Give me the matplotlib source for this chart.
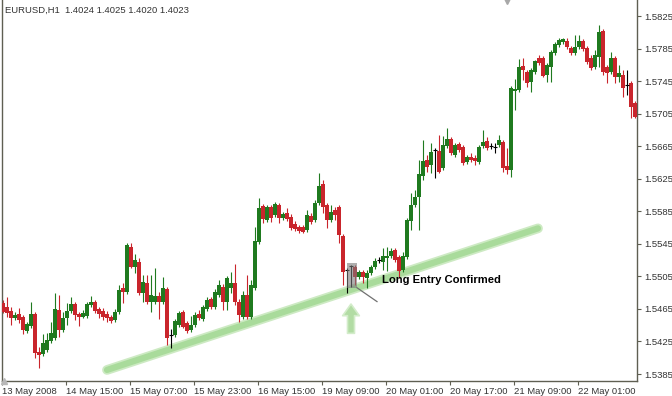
import numpy as np
import matplotlib.pyplot as plt

# EURUSD H1 candles, first bar = 13 May 2008 23:00
opens = [1.5472, 1.5467, 1.5462, 1.5454, 1.5459, 1.5455, 1.5438, 1.5444, 1.5459, 1.5412,
         1.5410, 1.5415, 1.5426, 1.5429, 1.5464, 1.5439, 1.5454, 1.5462, 1.5471, 1.5459,
         1.5455, 1.5456, 1.5470, 1.5474, 1.5465, 1.5462, 1.5459, 1.5455, 1.5451, 1.5461,
         1.5491, 1.5486, 1.5541, 1.5516, 1.5523, 1.5485, 1.5497, 1.5474, 1.5474, 1.5481,
         1.5474, 1.5489, 1.5433, 1.5433, 1.5445, 1.5461, 1.5448, 1.5439, 1.5445, 1.5459,
         1.5453, 1.5465, 1.5477, 1.5467, 1.5482, 1.5492, 1.5474, 1.5491, 1.5497, 1.5474,
         1.5455, 1.5482, 1.5455, 1.5491, 1.5547, 1.5592, 1.5574, 1.5590, 1.5580, 1.5593,
         1.5577, 1.5583, 1.5578, 1.5569, 1.5566, 1.5566, 1.5562, 1.5579, 1.5574, 1.5595,
         1.5619, 1.5593, 1.5574, 1.5587, 1.5590, 1.5555, 1.5513, 1.5518, 1.5516, 1.5504,
         1.5510, 1.5503, 1.5509, 1.5516, 1.5525, 1.5523, 1.5528, 1.5530, 1.5537, 1.5529,
         1.5513, 1.5529, 1.5573, 1.5593, 1.5603, 1.5628, 1.5648, 1.5642, 1.5660, 1.5659,
         1.5638, 1.5665, 1.5674, 1.5654, 1.5668, 1.5664, 1.5646, 1.5652, 1.5650, 1.5646,
         1.5665, 1.5671, 1.5665, 1.5664, 1.5666, 1.5670, 1.5641, 1.5636, 1.5733, 1.5734,
         1.5764, 1.5756, 1.5744, 1.5756, 1.5773, 1.5773, 1.5753, 1.5762, 1.5780, 1.5789,
         1.5793, 1.5794, 1.5786, 1.5780, 1.5787, 1.5794, 1.5786, 1.5773, 1.5762, 1.5775,
         1.5807, 1.5762, 1.5756, 1.5773, 1.5750, 1.5753, 1.5740, 1.5743, 1.5718]
highs = [1.5476, 1.5480, 1.5467, 1.5461, 1.5466, 1.5458, 1.5449, 1.5474, 1.5461, 1.5418,
         1.5434, 1.5435, 1.5449, 1.5485, 1.5482, 1.5461, 1.5472, 1.5480, 1.5474, 1.5461,
         1.5464, 1.5474, 1.5481, 1.5476, 1.5467, 1.5466, 1.5462, 1.5458, 1.5465, 1.5494,
         1.5497, 1.5546, 1.5546, 1.5532, 1.5528, 1.5507, 1.5507, 1.5507, 1.5515, 1.5486,
         1.5504, 1.5492, 1.5440, 1.5453, 1.5462, 1.5464, 1.5450, 1.5456, 1.5461, 1.5464,
         1.5470, 1.5480, 1.5480, 1.5489, 1.5501, 1.5496, 1.5505, 1.5510, 1.5520, 1.5477,
         1.5487, 1.5507, 1.5501, 1.5566, 1.5601, 1.5594, 1.5593, 1.5593, 1.5596, 1.5595,
         1.5584, 1.5589, 1.5582, 1.5573, 1.5568, 1.5568, 1.5587, 1.5583, 1.5599, 1.5632,
         1.5623, 1.5595, 1.5593, 1.5590, 1.5593, 1.5557, 1.5515, 1.5519, 1.5519, 1.5513,
         1.5513, 1.5513, 1.5519, 1.5528, 1.5529, 1.5540, 1.5541, 1.5540, 1.5540, 1.5531,
         1.5535, 1.5577, 1.5608, 1.5611, 1.5648, 1.5673, 1.5654, 1.5669, 1.5663, 1.5679,
         1.5678, 1.5687, 1.5676, 1.5669, 1.5670, 1.5666, 1.5654, 1.5657, 1.5654, 1.5666,
         1.5685, 1.5676, 1.5669, 1.5669, 1.5679, 1.5673, 1.5663, 1.5739, 1.5748, 1.5772,
         1.5773, 1.5759, 1.5761, 1.5771, 1.5777, 1.5776, 1.5767, 1.5783, 1.5793, 1.5798,
         1.5798, 1.5798, 1.5788, 1.5802, 1.5802, 1.5797, 1.5788, 1.5777, 1.5783, 1.5814,
         1.5809, 1.5765, 1.5781, 1.5776, 1.5765, 1.5759, 1.5759, 1.5745, 1.5721]
lows = [1.5460, 1.5455, 1.5445, 1.5451, 1.5448, 1.5434, 1.5435, 1.5442, 1.5405, 1.5392,
        1.5407, 1.5412, 1.5423, 1.5427, 1.5431, 1.5437, 1.5445, 1.5460, 1.5451, 1.5444,
        1.5454, 1.5454, 1.5467, 1.5460, 1.5454, 1.5451, 1.5449, 1.5448, 1.5449, 1.5459,
        1.5472, 1.5483, 1.5515, 1.5509, 1.5482, 1.5474, 1.5471, 1.5461, 1.5471, 1.5453,
        1.5471, 1.5421, 1.5417, 1.5431, 1.5443, 1.5442, 1.5435, 1.5437, 1.5443, 1.5451,
        1.5450, 1.5462, 1.5465, 1.5465, 1.5480, 1.5464, 1.5464, 1.5485, 1.5470, 1.5449,
        1.5453, 1.5453, 1.5453, 1.5488, 1.5545, 1.5571, 1.5572, 1.5572, 1.5578, 1.5571,
        1.5574, 1.5573, 1.5562, 1.5561, 1.5558, 1.5558, 1.5560, 1.5569, 1.5572, 1.5593,
        1.5583, 1.5564, 1.5572, 1.5574, 1.5546, 1.5494, 1.5485, 1.5492, 1.5494, 1.5502,
        1.5497, 1.5491, 1.5507, 1.5514, 1.5521, 1.5513, 1.5512, 1.5528, 1.5523, 1.5503,
        1.5510, 1.5526, 1.5562, 1.5590, 1.5562, 1.5623, 1.5633, 1.5632, 1.5626, 1.5632,
        1.5636, 1.5663, 1.5654, 1.5652, 1.5658, 1.5642, 1.5643, 1.5646, 1.5642, 1.5643,
        1.5663, 1.5660, 1.5662, 1.5657, 1.5664, 1.5633, 1.5631, 1.5627, 1.5710, 1.5732,
        1.5746, 1.5738, 1.5732, 1.5754, 1.5765, 1.5750, 1.5744, 1.5744, 1.5777, 1.5787,
        1.5791, 1.5784, 1.5777, 1.5777, 1.5784, 1.5782, 1.5766, 1.5759, 1.5760, 1.5762,
        1.5753, 1.5743, 1.5754, 1.5743, 1.5744, 1.5726, 1.5728, 1.5700, 1.5700]
closes = [1.5461, 1.5460, 1.5454, 1.5458, 1.5451, 1.5439, 1.5446, 1.5459, 1.5411, 1.5408,
          1.5423, 1.5427, 1.5435, 1.5465, 1.5439, 1.5454, 1.5462, 1.5471, 1.5458, 1.5455,
          1.5460, 1.5471, 1.5474, 1.5462, 1.5459, 1.5455, 1.5454, 1.5450, 1.5461, 1.5488,
          1.5486, 1.5544, 1.5516, 1.5525, 1.5485, 1.5498, 1.5474, 1.5482, 1.5481, 1.5474,
          1.5491, 1.5429, 1.5433, 1.5450, 1.5460, 1.5443, 1.5438, 1.5445, 1.5458, 1.5454,
          1.5467, 1.5476, 1.5467, 1.5486, 1.5494, 1.5474, 1.5503, 1.5497, 1.5474, 1.5458,
          1.5482, 1.5455, 1.5494, 1.5548, 1.5589, 1.5576, 1.5590, 1.5577, 1.5594, 1.5577,
          1.5582, 1.5576, 1.5564, 1.5563, 1.5561, 1.5560, 1.5580, 1.5572, 1.5595, 1.5616,
          1.5590, 1.5574, 1.5584, 1.5580, 1.5556, 1.5510, 1.5513, 1.5518, 1.5504, 1.5510,
          1.5504, 1.5509, 1.5516, 1.5524, 1.5525, 1.5530, 1.5530, 1.5536, 1.5525, 1.5512,
          1.5530, 1.5574, 1.5593, 1.5603, 1.5631, 1.5647, 1.5639, 1.5658, 1.5660, 1.5633,
          1.5666, 1.5674, 1.5657, 1.5666, 1.5660, 1.5644, 1.5652, 1.5648, 1.5647, 1.5664,
          1.5670, 1.5663, 1.5665, 1.5664, 1.5673, 1.5638, 1.5636, 1.5737, 1.5735, 1.5762,
          1.5759, 1.5743, 1.5759, 1.5770, 1.5767, 1.5751, 1.5765, 1.5781, 1.5791, 1.5796,
          1.5797, 1.5787, 1.5780, 1.5787, 1.5794, 1.5784, 1.5768, 1.5761, 1.5777, 1.5805,
          1.5756, 1.5755, 1.5773, 1.5750, 1.5755, 1.5737, 1.5740, 1.5713, 1.5701]

tick_bars = [0, 16, 32, 48, 64, 80, 96, 112, 128, 144]
tick_labels = ['13 May 2008', '14 May 15:00', '15 May 07:00', '15 May 23:00', '16 May 15:00',
               '19 May 09:00', '20 May 01:00', '20 May 17:00', '21 May 09:00', '22 May 01:00']
price_ticks = [1.5385, 1.5425, 1.5465, 1.5505, 1.5545, 1.5585,
               1.5625, 1.5665, 1.5705, 1.5745, 1.5785, 1.5825]

header = 'EURUSD,H1  1.4024 1.4025 1.4020 1.4023'

# support line drawn on the chart (bar index, price)
trend_x = [26, 133.75]
trend_y = [1.5390, 1.5564]

# entry bars highlighted, arrow and note
entry_x = [86, 88.5]
entry_y = [1.5491, 1.5521]
arrow_x = 87
arrow_y = [1.5435, 1.5471]
note_x = [88.5, 93.5]
note_y = [1.5491, 1.5474]
note_text = 'Long Entry Confirmed'

GREEN = '#1f7a1f'
RED = '#c9252c'
AXIS = '#5f5f52'
TEXT = '#333333'

o, h, l, c = (np.array(v) for v in (opens, highs, lows, closes))
x = np.arange(len(o))
colors = np.where(c > o, GREEN, np.where(c < o, RED, 'black'))
flat = c == o

fig = plt.figure(figsize=(6.72, 3.96), dpi=100)
ax = fig.add_axes([2 / 672, 15 / 396, 635 / 672, 381 / 396])

# trend line with a soft glow
ax.plot(trend_x, trend_y, color='#cdeac3', lw=7, solid_capstyle='round', zorder=1)
ax.plot(trend_x, trend_y, color='#a9db9b', lw=4.5, solid_capstyle='round', zorder=1)

ax.vlines(x, l, h, colors=colors, lw=0.8, zorder=2)
ax.bar(x, np.abs(c - o), bottom=np.minimum(o, c), width=0.8, color=colors,
       linewidth=0, zorder=3)
ax.hlines(o[flat], x[flat] - 0.45, x[flat] + 0.45, colors='black', lw=0.8, zorder=3)

# highlight box over the entry candles
ax.fill_between(entry_x, entry_y[0], entry_y[1], color='#7a7a7a', alpha=0.6,
                lw=0, zorder=4)
ax.plot(note_x, note_y, color='#707070', lw=0.9, zorder=4)
ax.text(note_x[1] + 1.2, 1.5500, note_text, fontsize=8.1, fontweight='bold',
        family='Liberation Sans', ha='left', va='center', color='black')

ax.annotate('', xy=(arrow_x, arrow_y[1]), xytext=(arrow_x, arrow_y[0]),
            arrowprops=dict(arrowstyle='simple,head_width=1.0,head_length=0.7,tail_width=0.42',
                            mutation_scale=12, fc='#b2dca4', ec='#d3ecca', lw=1.2,
                            shrinkA=0, shrinkB=0), zorder=2)

ax.set_xlim(-0.25, 158.5)
ax.set_ylim(1.53764, 1.58447)

ax.spines['top'].set_visible(False)
for s in ('left', 'right', 'bottom'):
    ax.spines[s].set_color(AXIS)
    ax.spines[s].set_linewidth(1)

ax.yaxis.tick_right()
ax.set_yticks(price_ticks, ['%.4f' % p for p in price_ticks])
ax.set_xticks(np.array(tick_bars) - 0.25, tick_labels)
for lab in ax.get_xticklabels():
    lab.set_horizontalalignment('left')
ax.tick_params(axis='both', colors=AXIS, labelcolor=TEXT, labelsize=6.8, length=3,
               width=0.8, pad=2)
ax.tick_params(axis='x', pad=1.5)
for lab in ax.get_xticklabels() + ax.get_yticklabels():
    lab.set_family('Liberation Sans')

# chart-shift markers
ax.plot([126.1], [1.58447], marker='v', ms=6, color='#a8a8a8', clip_on=False, zorder=5)
ax.plot([0.3], [1.53764], marker='^', ms=5, color='#b8b8b8', clip_on=False, zorder=5)

fig.text(5 / 672, 1 - 10 / 396, header, fontsize=6.8, family='Liberation Sans',
         color=TEXT, ha='left', va='center')

fig.savefig('out.png', dpi=100)
